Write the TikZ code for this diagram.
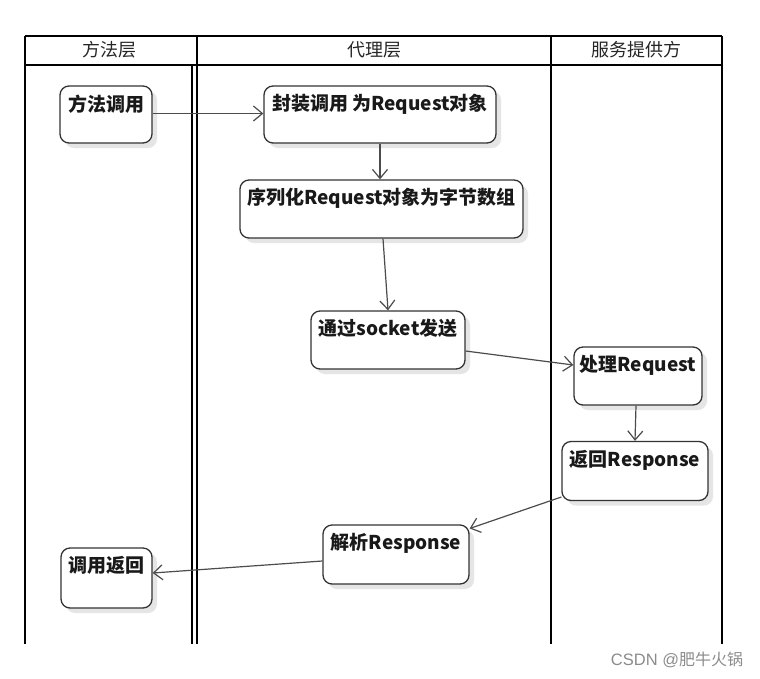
\documentclass[tikz,border=0pt]{standalone}
\usepackage{fontspec}
\setmainfont{Noto Sans CJK SC}
\newfontfamily\wmlatin{Liberation Sans}
\usetikzlibrary{arrows.meta,shadows}
\begin{document}
\begin{tikzpicture}[x=1pt,y=-1pt,
  lane/.style={line width=2pt, draw=black},
  act/.style={draw=black!80, line width=1.3pt, rounded corners=9pt, fill=white,
    drop shadow={shadow xshift=5pt, shadow yshift=-5pt, fill=black!10, opacity=1}},
  lbl/.style={anchor=north, yshift=-9pt, inner sep=0pt, font=\fontsize{19pt}{22pt}\selectfont\bfseries, text=black!90},
  hdr/.style={font=\fontsize{18pt}{21pt}\selectfont, text=black!85, inner sep=0pt},
  conn/.style={draw=black!70, line width=1.2pt, -{Straight Barb[length=9pt,width=15pt,line width=1.2pt]}}]
\useasboundingbox (0,0) rectangle (760,678);
\fill[white] (0,0) rectangle (760,678);
% swimlane frame
\draw[lane] (25,36) -- (722,36);
\draw[lane] (25,65) -- (722,65);
\draw[lane] (25,36) -- (25,644);
\draw[lane] (197,36) -- (197,644);
\draw[lane] (192,65) -- (192,644);
\draw[lane] (551,36) -- (551,644);
\draw[lane] (722,36) -- (722,644);
\node[hdr] (h1) at (109,50) {方法层};
\node[hdr] (h2) at (374,50) {代理层};
\node[hdr] (h3) at (636,50) {服务提供方};
% activities
\node[act, minimum width=92pt, minimum height=57pt, label={[lbl]north:方法调用}] (m1) at (106,114.5) {};
\node[act, minimum width=232pt, minimum height=57pt, label={[lbl]north:封装调用 为Request对象}] (p1) at (380,114.5) {};
\node[act, minimum width=283pt, minimum height=58pt, label={[lbl]north:序列化Request对象为字节数组}] (p2) at (381.5,209) {};
\node[act, minimum width=154pt, minimum height=58pt, label={[lbl]north:通过socket发送}] (p3) at (388,340) {};
\node[act, minimum width=128pt, minimum height=58pt, label={[lbl]north:处理Request}] (s1) at (638,376) {};
\node[act, minimum width=146pt, minimum height=59pt, label={[lbl]north:返回Response}] (s2) at (635,471) {};
\node[act, minimum width=146pt, minimum height=59pt, label={[lbl]north:解析Response}] (p4) at (396,554.5) {};
\node[act, minimum width=91pt, minimum height=60pt, label={[lbl]north:调用返回}] (m2) at (106.5,578) {};
% connectors
\draw[conn] ([yshift=1pt]m1.east) -- ([yshift=1pt]p1.west);
\draw[conn] (p1.south) -- ([xshift=-1.5pt]p2.north);
\draw[conn] ([xshift=1.5pt]p2.south) -- (p3.north);
\draw[conn] ([yshift=-11pt]p3.east) -- ([yshift=11pt]s1.west);
\draw[conn] ([xshift=-2pt]s1.south) -- (s2.north);
\draw[conn] ([yshift=-26pt]s2.west) -- ([yshift=26pt]p4.east);
\draw[conn] ([yshift=-6.5pt]p4.west) -- ([yshift=5pt]m2.east);
% watermark
\node[text=black!45, font=\fontsize{16pt}{19pt}\selectfont, inner sep=0pt] (wm) at (677,660) {{\wmlatin\fontsize{16.5pt}{19pt}\selectfont CSDN @}肥牛火锅};
\end{tikzpicture}
\end{document}
